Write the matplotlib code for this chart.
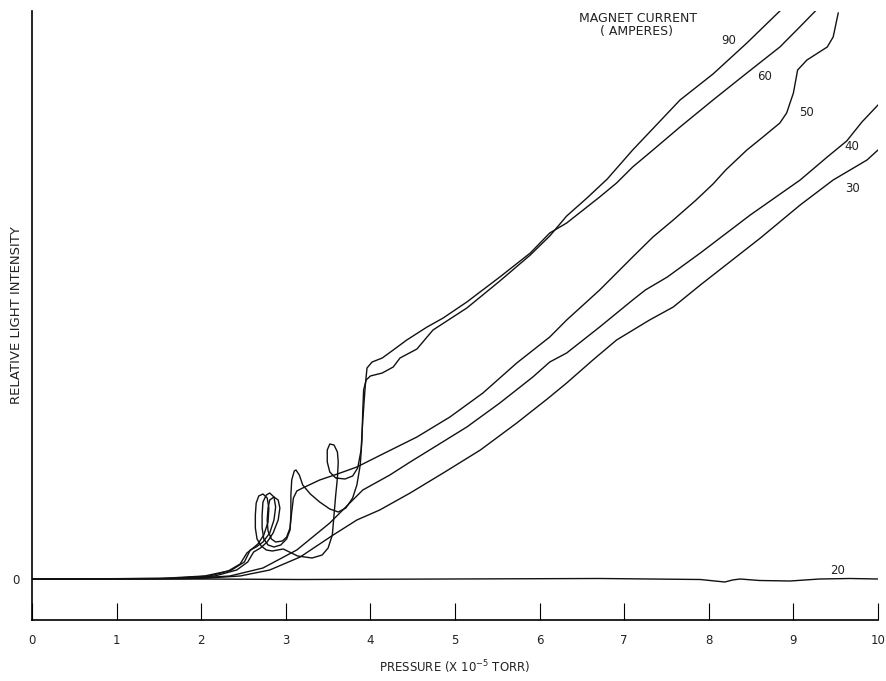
import matplotlib
matplotlib.use("Agg")
from matplotlib import pyplot as plt

# traces of relative light intensity vs pressure (x 10^-5 torr), one per magnet current
p_20 = [0, 1.99, 3.17, 4.94, 6.71, 7.90, 8.07, 8.19, 8.28, 8.37, 8.60, 8.96, 9.31, 9.67, 10.0]
i_20 = [0, 0, -0.05, 0, 0.05, -0.05, -0.2, -0.3, -0.1, 0, -0.15, -0.2, 0, 0.05, 0]

p_30 = [0, 1.99, 2.46, 2.81, 3.17, 3.56, 3.84, 4.11, 4.47, 4.88, 5.30, 5.73, 6.09, 6.32,
        6.63, 6.91, 7.30, 7.58, 7.90, 8.61, 9.08, 9.47, 9.63, 9.87, 10.0]
i_30 = [0, 0.05, 0.3, 0.9, 2.2, 4.4, 5.9, 6.9, 8.6, 10.7, 12.9, 15.6, 18.0, 19.6,
        21.9, 23.9, 25.9, 27.2, 29.4, 34.1, 37.4, 39.9, 40.7, 41.9, 42.9]

p_40 = [0, 1.87, 2.34, 2.73, 3.13, 3.52, 3.91, 4.23, 4.47, 4.70, 5.14, 5.53, 5.92, 6.12,
        6.32, 6.71, 7.10, 7.25, 7.51, 7.90, 8.49, 9.08, 9.40, 9.63, 9.81, 10.0]
i_40 = [0, 0.05, 0.3, 1.1, 2.9, 5.6, 8.9, 10.4, 11.7, 12.9, 15.2, 17.6, 20.2, 21.7,
        22.6, 25.2, 27.9, 28.9, 30.2, 32.6, 36.4, 39.9, 42.2, 43.8, 45.7, 47.4]

p_50 = [0, 1.75, 2.16, 2.42, 2.55, 2.62, 2.70, 2.78, 2.85, 2.91, 2.93, 2.91, 2.86, 2.81,
        2.79, 2.78, 2.79, 2.83, 2.88, 2.96, 3.01, 3.05, 3.07, 3.09, 3.13, 3.20, 3.40,
        3.61, 3.84, 4.17, 4.55, 4.94, 5.33, 5.73, 6.12, 6.32, 6.71, 7.10, 7.34, 7.58,
        7.85, 8.05, 8.20, 8.45, 8.64, 8.84, 8.92, 9.00, 9.05, 9.16, 9.40, 9.47, 9.53]
i_50 = [0, 0.05, 0.3, 0.9, 1.7, 2.7, 3.1, 3.7, 4.6, 5.9, 7.1, 7.9, 8.2, 7.9,
        7.1, 5.9, 4.8, 4.0, 3.7, 3.8, 4.2, 5.1, 6.7, 8.1, 8.8, 9.1, 9.9,
        10.5, 11.2, 12.6, 14.2, 16.2, 18.6, 21.6, 24.2, 25.9, 28.9, 32.2, 34.2, 35.9,
        37.9, 39.5, 40.9, 42.9, 44.2, 45.6, 46.6, 48.6, 50.9, 51.9, 53.2, 54.2, 56.6]

p_60 = [0, 1.51, 2.04, 2.32, 2.46, 2.54, 2.60, 2.67, 2.74, 2.79, 2.80, 2.78, 2.73, 2.68,
        2.65, 2.64, 2.64, 2.66, 2.71, 2.77, 2.84, 2.97, 3.14, 3.31, 3.43, 3.50, 3.55,
        3.57, 3.59, 3.61, 3.62, 3.61, 3.57, 3.52, 3.49, 3.49, 3.52, 3.59, 3.70, 3.79,
        3.85, 3.89, 3.91, 3.94, 3.96, 4.02, 4.14, 4.27, 4.43, 4.67, 4.86, 5.14, 5.53,
        5.89, 6.12, 6.32, 6.71, 6.91, 7.10, 7.34, 7.66, 8.05, 8.45, 8.84, 9.04, 9.26]
i_60 = [0, 0.05, 0.3, 0.8, 1.5, 2.6, 3.0, 3.5, 4.4, 5.7, 7.1, 8.1, 8.5, 8.3,
        7.6, 6.4, 5.1, 4.0, 3.3, 2.9, 2.8, 3.0, 2.3, 2.1, 2.4, 3.1, 4.4,
        6.4, 8.4, 10.1, 11.7, 12.7, 13.4, 13.5, 12.9, 11.7, 10.7, 10.1, 10.0, 10.3,
        11.1, 12.9, 15.9, 19.4, 21.1, 21.7, 22.1, 22.9, 23.9, 25.2, 26.1, 27.7, 30.2,
        32.6, 34.6, 35.6, 38.2, 39.6, 41.2, 42.9, 45.2, 47.9, 50.6, 53.2, 54.9, 56.8]

p_90 = [0, 1.63, 2.10, 2.36, 2.51, 2.58, 2.65, 2.73, 2.81, 2.86, 2.88, 2.86, 2.81, 2.77,
        2.73, 2.72, 2.72, 2.74, 2.79, 2.86, 2.94, 3.01, 3.05, 3.06, 3.06, 3.07, 3.10,
        3.12, 3.16, 3.20, 3.29, 3.40, 3.52, 3.62, 3.71, 3.79, 3.84, 3.88, 3.90, 3.91,
        3.92, 3.95, 4.00, 4.14, 4.27, 4.35, 4.55, 4.74, 5.14, 5.53, 5.89, 6.12, 6.32,
        6.56, 6.80, 7.10, 7.66, 8.05, 8.45, 8.84]
i_90 = [0, 0.05, 0.3, 0.9, 1.7, 2.9, 3.2, 3.7, 4.6, 5.9, 7.2, 8.2, 8.6, 8.4,
        7.7, 6.4, 5.1, 4.0, 3.4, 3.2, 3.4, 4.0, 4.9, 6.4, 8.4, 9.9, 10.8,
        10.9, 10.4, 9.4, 8.5, 7.7, 7.0, 6.7, 7.1, 8.1, 9.4, 11.4, 13.9, 16.9,
        18.9, 19.9, 20.3, 20.6, 21.2, 22.1, 23.0, 24.9, 27.1, 29.8, 32.4, 34.3, 36.3,
        38.1, 40.0, 42.9, 47.9, 50.5, 53.6, 56.8]

curves = [(p_20, i_20), (p_30, i_30), (p_40, i_40), (p_50, i_50), (p_60, i_60), (p_90, i_90)]

# current labels and where they sit next to each trace
currents = ["20", "30", "40", "50", "60", "90"]
label_p = [9.52, 9.70, 9.69, 9.16, 8.66, 8.23]
label_i = [0.9, 39.1, 43.2, 46.7, 50.2, 53.9]

ticks = list(range(11))

fig = plt.figure(figsize=(8.86, 6.81), dpi=100)
ax = fig.add_axes([32 / 886, 61 / 681, 846 / 886, 609 / 681])

for p, i in curves:
    ax.plot(p, i, color="#111111", linewidth=1.0, solid_joinstyle="round")

for name, x, y in zip(currents, label_p, label_i):
    ax.text(x, y, name, fontsize=8.5, ha="center", va="center", color="#222222")

ax.text(7.16, 56.0, "MAGNET CURRENT", fontsize=9, ha="center", va="center", color="#222222")
ax.text(7.15, 54.7, "( AMPERES)", fontsize=9, ha="center", va="center", color="#222222")

ax.set_xlim(0, 10)
ax.set_ylim(-4.1, 56.8)

ax.spines["top"].set_visible(False)
ax.spines["right"].set_visible(False)
ax.spines["left"].set_linewidth(1.2)
ax.spines["bottom"].set_linewidth(1.2)

ax.set_xticks(ticks)
ax.set_xticklabels([str(t) for t in ticks])
ax.tick_params(axis="x", direction="in", length=12, width=0.8, pad=10, labelsize=8.5,
               labelcolor="#222222")
ax.set_yticks([0])
ax.set_yticklabels(["0"])
ax.tick_params(axis="y", length=0, pad=9, labelsize=8.5, labelcolor="#222222")

ax.set_xlabel("PRESSURE (X 10$^{-5}$ TORR)", fontsize=8.5, color="#222222", labelpad=8)
fig.text(17 / 886, 1 - 315 / 681, "RELATIVE LIGHT INTENSITY", rotation=90, fontsize=9.5,
         ha="center", va="center", color="#222222")

fig.savefig("out.png", dpi=100)
